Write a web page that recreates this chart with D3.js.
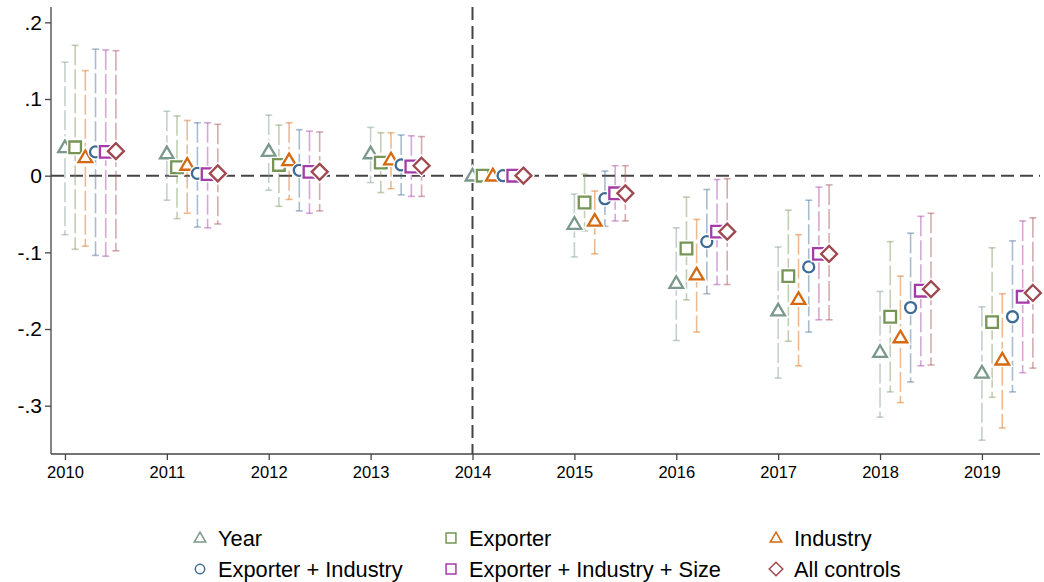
<!DOCTYPE html>
<html>
<head>
<meta charset="utf-8">
<script src="https://cdn.jsdelivr.net/npm/d3@7"></script>
<style>
  body { margin: 0; background: #fff; }
  svg text { font-family: "Liberation Sans", Arial, Helvetica, sans-serif; fill: #000; }
</style>
</head>
<body>
<div id="chart"></div>
<script>
// event-study coefficients, one array per specification
var years = [2010, 2011, 2012, 2013, 2014, 2015, 2016, 2017, 2018, 2019];
var yTicks = [0.2, 0.1, 0, -0.1, -0.2, -0.3];
var yTickLabels = [".2", ".1", "0", "-.1", "-.2", "-.3"];

var est_year   = [0.037, 0.029, 0.032, 0.029, 0, -0.063, -0.140, -0.176, -0.230, -0.257];
var lo_year    = [-0.077, -0.032, -0.019, -0.009, 0, -0.106, -0.215, -0.264, -0.315, -0.345];
var hi_year    = [0.148, 0.084, 0.079, 0.063, 0, -0.024, -0.068, -0.093, -0.151, -0.171];

var est_exp    = [0.037, 0.011, 0.014, 0.017, 0, -0.035, -0.095, -0.131, -0.184, -0.191];
var lo_exp     = [-0.096, -0.056, -0.040, -0.022, 0, -0.072, -0.162, -0.216, -0.282, -0.289];
var hi_exp     = [0.170, 0.078, 0.066, 0.056, 0, 0.002, -0.028, -0.045, -0.086, -0.094];

var est_ind    = [0.024, 0.014, 0.020, 0.021, 0, -0.059, -0.129, -0.161, -0.211, -0.240];
var lo_ind     = [-0.092, -0.049, -0.031, -0.017, 0, -0.102, -0.204, -0.248, -0.296, -0.329];
var hi_ind     = [0.137, 0.072, 0.069, 0.056, 0, -0.020, -0.057, -0.077, -0.131, -0.154];

var est_expind = [0.031, 0.003, 0.007, 0.014, 0, -0.030, -0.086, -0.119, -0.172, -0.184];
var lo_expind  = [-0.104, -0.067, -0.046, -0.025, 0, -0.066, -0.154, -0.204, -0.269, -0.282];
var hi_expind  = [0.165, 0.069, 0.060, 0.053, 0, 0.006, -0.018, -0.032, -0.075, -0.085];

var est_size   = [0.031, 0.002, 0.005, 0.012, 0, -0.023, -0.073, -0.102, -0.150, -0.158];
var lo_size    = [-0.105, -0.068, -0.049, -0.027, 0, -0.059, -0.142, -0.188, -0.248, -0.257];
var hi_size    = [0.164, 0.069, 0.058, 0.052, 0, 0.013, -0.005, -0.015, -0.053, -0.059];

var est_all    = [0.032, 0.003, 0.005, 0.013, 0, -0.023, -0.073, -0.102, -0.148, -0.153];
var lo_all     = [-0.098, -0.063, -0.046, -0.027, 0, -0.059, -0.142, -0.188, -0.247, -0.251];
var hi_all     = [0.163, 0.067, 0.057, 0.051, 0, 0.013, -0.004, -0.012, -0.049, -0.055];

var seriesNames = ["Year", "Exporter", "Industry", "Exporter + Industry", "Exporter + Industry + Size", "All controls"];
var seriesColors = ["#7a988b", "#769455", "#d4690f", "#3f6b94", "#a43ba6", "#a0484f"];
var seriesShapes = ["triangle", "square", "triangle", "circle", "square", "diamond"];
var seriesEst = [est_year, est_exp, est_ind, est_expind, est_size, est_all];
var seriesLo = [lo_year, lo_exp, lo_ind, lo_expind, lo_size, lo_all];
var seriesHi = [hi_year, hi_exp, hi_ind, hi_expind, hi_size, hi_all];

var width = 1044, height = 582;
var margin = {top: 7, right: 4, bottom: 128, left: 51};

var svg = d3.select("#chart").append("svg")
    .attr("width", width)
    .attr("height", height);

var x = d3.scaleLinear().domain([2009.863, 2019.57]).range([margin.left, width - margin.right]);
var y = d3.scaleLinear().domain([-0.363, 0.22]).range([height - margin.bottom, margin.top]);

function shapePath(shape, s) {
  if (shape == "triangle") return "M0," + (-6.8 * s) + "L" + (6.8 * s) + "," + (4.8 * s) + "L" + (-6.8 * s) + "," + (4.8 * s) + "Z";
  if (shape == "square") return "M" + (-5.8 * s) + "," + (-5.8 * s) + "h" + (11.6 * s) + "v" + (11.6 * s) + "h" + (-11.6 * s) + "Z";
  if (shape == "diamond") return "M0," + (-8 * s) + "L" + (8 * s) + ",0L0," + (8 * s) + "L" + (-8 * s) + ",0Z";
  var r = 5.5 * s;
  return "M" + r + ",0A" + r + "," + r + " 0 1,1 " + (-r) + ",0A" + r + "," + r + " 0 1,1 " + r + ",0Z";
}

// reference lines
svg.append("line")
    .attr("x1", x.range()[0]).attr("x2", x.range()[1])
    .attr("y1", y(0)).attr("y2", y(0))
    .attr("stroke", "#444").attr("stroke-width", 2)
    .attr("stroke-dasharray", "13,6");

svg.append("line")
    .attr("x1", x(2014)).attr("x2", x(2014))
    .attr("y1", y.range()[1]).attr("y2", y.range()[0])
    .attr("stroke", "#444").attr("stroke-width", 2)
    .attr("stroke-dasharray", "13,6");

// axes
var yAxis = svg.append("g")
    .attr("transform", "translate(" + margin.left + ",0)")
    .call(d3.axisLeft(y).tickValues(yTicks).tickSize(6).tickPadding(3)
      .tickFormat(function(d, i) { return yTickLabels[i]; }));
yAxis.select(".domain").attr("stroke", "#444").attr("stroke-width", 1.3).attr("d", "M0," + y.range()[1] + "V" + y.range()[0]);
yAxis.selectAll(".tick line").attr("stroke", "#444").attr("stroke-width", 1.3);
yAxis.selectAll("text").style("font-size", "21px");

var xAxis = svg.append("g")
    .attr("transform", "translate(0," + (height - margin.bottom) + ")")
    .call(d3.axisBottom(x).tickValues(years).tickSize(6).tickPadding(6).tickFormat(d3.format("d")));
xAxis.select(".domain").attr("stroke", "#444").attr("stroke-width", 1.3).attr("d", "M" + x.range()[0] + ",0H" + x.range()[1]);
xAxis.selectAll(".tick line").attr("stroke", "#444").attr("stroke-width", 1.3);
xAxis.selectAll("text").style("font-size", "16.5px");

// confidence intervals
seriesNames.forEach(function(name, k) {
  var g = svg.append("g").attr("stroke", seriesColors[k]).attr("stroke-opacity", 0.45).attr("stroke-width", 1.6);
  years.forEach(function(yr, i) {
    if (seriesLo[k][i] == seriesHi[k][i]) return;
    var cx = x(yr + k * 0.1);
    g.append("line")
        .attr("x1", cx).attr("x2", cx)
        .attr("y1", y(seriesHi[k][i])).attr("y2", y(seriesLo[k][i]))
        .attr("stroke-dasharray", "20,4");
    g.append("line").attr("x1", cx - 3.5).attr("x2", cx + 3.5)
        .attr("y1", y(seriesHi[k][i])).attr("y2", y(seriesHi[k][i]));
    g.append("line").attr("x1", cx - 3.5).attr("x2", cx + 3.5)
        .attr("y1", y(seriesLo[k][i])).attr("y2", y(seriesLo[k][i]));
  });
});

// point estimates (white halo underneath, like the original)
seriesNames.forEach(function(name, k) {
  var g = svg.append("g");
  g.selectAll("path.halo")
    .data(years)
    .enter().append("path")
    .attr("class", "halo")
    .attr("transform", function(d, i) { return "translate(" + x(d + k * 0.1) + "," + y(seriesEst[k][i]) + ")"; })
    .attr("d", shapePath(seriesShapes[k], 1))
    .attr("fill", "#fff")
    .attr("stroke", "#fff")
    .attr("stroke-width", 5);
  g.selectAll("path.mark")
    .data(years)
    .enter().append("path")
    .attr("class", "mark")
    .attr("transform", function(d, i) { return "translate(" + x(d + k * 0.1) + "," + y(seriesEst[k][i]) + ")"; })
    .attr("d", shapePath(seriesShapes[k], 1))
    .attr("fill", "#fff")
    .attr("stroke", seriesColors[k])
    .attr("stroke-width", 2.3);
});

// legend
var legCols = [200, 451, 776];
var legRows = [538, 569];
seriesNames.forEach(function(name, k) {
  var lx = legCols[k % 3], ly = legRows[Math.floor(k / 3)];
  svg.append("path")
      .attr("transform", "translate(" + lx + "," + ly + ")")
      .attr("d", shapePath(seriesShapes[k], 0.85))
      .attr("fill", "#fff")
      .attr("stroke", seriesColors[k])
      .attr("stroke-width", 1.5);
  svg.append("text")
      .attr("x", lx + 18)
      .attr("y", ly + 7.5)
      .style("font-size", "21.8px")
      .text(name);
});
</script>
</body>
</html>
